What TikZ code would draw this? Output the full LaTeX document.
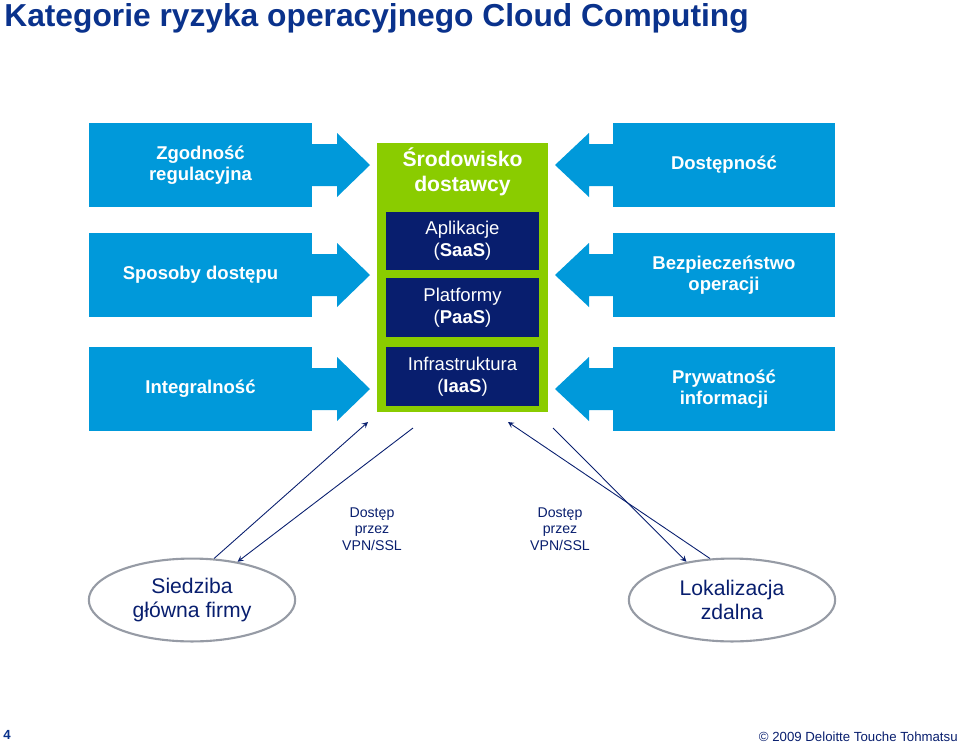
\documentclass[tikz,border=0pt]{standalone}
\usepackage{fontspec}
\setmainfont{Liberation Sans}
\usetikzlibrary{shapes.geometric}
\definecolor{riskblue}{RGB}{0,153,218}
\definecolor{provgreen}{RGB}{138,204,0}
\definecolor{layernavy}{RGB}{8,30,110}
\definecolor{titlenavy}{RGB}{10,50,140}
\definecolor{ovalgray}{RGB}{150,155,165}
\tikzset{
  riskbox/.style={fill=riskblue, text=white, font=\bfseries\fontsize{10.5}{12}\selectfont,
    minimum width=126pt, minimum height=47.5pt, align=center, inner sep=0pt},
  layerbox/.style={fill=layernavy, text=white, font=\fontsize{10.5}{12.5}\selectfont,
    minimum width=86.5pt, minimum height=33pt, align=center, inner sep=0pt},
  siteoval/.style={ellipse, draw=ovalgray, line width=1.2pt, text=layernavy,
    font=\fontsize{12}{14}\selectfont, minimum width=117pt, minimum height=47pt, align=center, inner sep=0pt},
  vpnlabel/.style={text=layernavy, font=\fontsize{8}{9.5}\selectfont, align=center},
  link/.style={draw=layernavy, line width=0.5pt, ->, >=stealth}
}
\begin{document}
\begin{tikzpicture}[x=0.567pt, y=-0.567pt]
  \useasboundingbox (0,0) rectangle (960,743);

  % Title
  \node[anchor=west, text=titlenavy, font=\bfseries\fontsize{18}{20}\selectfont, inner sep=0pt] (title) at (4,18) {Kategorie ryzyka operacyjnego Cloud Computing};

  % Block arrows, left and right
  \foreach \y in {165,275,389} {
    \fill[riskblue] (310,\y-21) -- (337,\y-21) -- (337,\y-32) -- (370,\y) -- (337,\y+32) -- (337,\y+21) -- (310,\y+21) -- cycle;
    \fill[riskblue] (615,\y-21) -- (589,\y-21) -- (589,\y-32) -- (555,\y) -- (589,\y+32) -- (589,\y+21) -- (615,\y+21) -- cycle;
  }

  % Left risk boxes
  \node[riskbox] (zgod) at (200.5,165) {Zgodność\\regulacyjna};
  \node[riskbox] (dostep) at (200.5,275) {Sposoby dostępu};
  \node[riskbox] (integr) at (200.5,389) {Integralność};

  % Right risk boxes
  \node[riskbox] (dostepn) at (724,165) {Dostępność};
  \node[riskbox] (bezp) at (724,275) {Bezpieczeństwo\\operacji};
  \node[riskbox] (prywat) at (724,389) {Prywatność\\informacji};

  % Provider environment
  \fill[provgreen] (377,143) rectangle (548,412);
  \node[text=white, font=\bfseries\fontsize{12}{14}\selectfont, align=center] (srod) at (462.5,172) {Środowisko\\dostawcy};
  \node[layerbox] (saas) at (462.5,241) {Aplikacje\\(\textbf{SaaS})};
  \node[layerbox] (paas) at (462.5,307.5) {Platformy\\(\textbf{PaaS})};
  \node[layerbox] (iaas) at (462.5,376.5) {Infrastruktura\\(\textbf{IaaS})};

  % Sites
  \node[siteoval] (hq) at (192,600) {Siedziba\\główna firmy};
  \node[siteoval] (remote) at (732,600) {Lokalizacja\\zdalna};

  \coordinate (hqup) at (368,422);
  \coordinate (hqdown) at (413,428);
  \coordinate (remup) at (508,422);
  \coordinate (remdown) at (553,428);

  \draw[link] (hq.62) -- (hqup);
  \draw[link] (hqdown) -- (hq.40);
  \draw[link] (remote.118) -- (remup);
  \draw[link] (remdown) -- (remote.140);

  \node[vpnlabel] (vpnl) at (372,529) {Dostęp\\przez\\VPN/SSL};
  \node[vpnlabel] (vpnr) at (560,529) {Dostęp\\przez\\VPN/SSL};

  % Footer
  \node[anchor=west, text=titlenavy, font=\bfseries\fontsize{7.5}{9}\selectfont, inner sep=0pt] (page) at (3,735) {4};
  \node[anchor=east, text=layernavy, font=\fontsize{7.5}{9}\selectfont, inner sep=0pt] (copy) at (958,737) {© 2009 Deloitte Touche Tohmatsu};
\end{tikzpicture}
\end{document}
